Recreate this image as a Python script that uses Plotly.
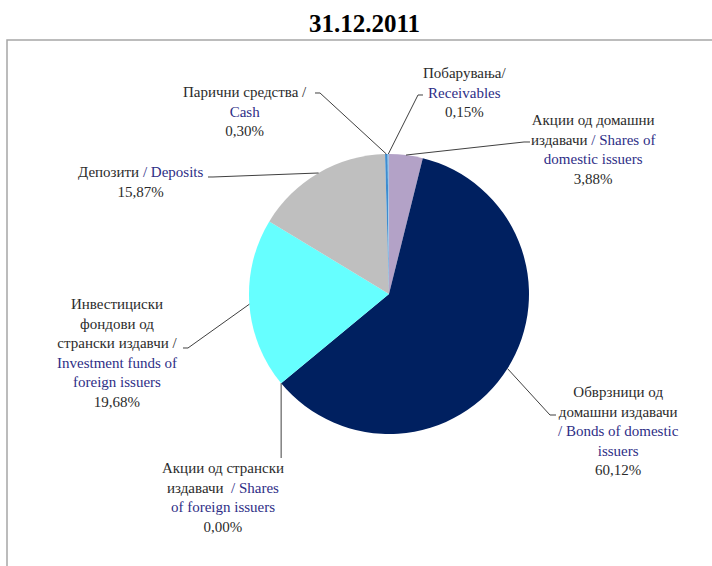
import math
import plotly.graph_objects as go

# ---------------- data ----------------
title = "31.12.2011"
labels_mk = ["Акции од домашни издавачи", "Обврзници од домашни издавачи",
             "Акции од странски издавачи", "Инвестициски фондови од странски издавчи",
             "Депозити", "Парични средства", "Побарувања"]
labels_en = ["Shares of domestic issuers", "Bonds of domestic issuers",
             "Shares of foreign issuers", "Investment funds of foreign issuers",
             "Deposits", "Cash", "Receivables"]
values = [3.88, 60.12, 0.00, 19.68, 15.87, 0.30, 0.15]
pct_text = ["3,88%", "60,12%", "0,00%", "19,68%", "15,87%", "0,30%", "0,15%"]
colors = ["#B3A2C7", "#002060", "#C0504D", "#66FFFF", "#BFBFBF", "#3C8CD0", "#9DC3E6"]

BLUE = "#2E2E86"
INK = "#2B2B2B"

def b(t):
    return f"<span style='color:{BLUE}'>{t}</span>"

# wrapped label text (display layout of the labels)
label_html = [
    "Акции од домашни<br>издавачи " + b("/ Shares of") + "<br>" + b("domestic issuers") + "<br>" + pct_text[0],
    "Обврзници од<br>домашни издавачи<br>" + b("/ Bonds of domestic") + "<br>" + b("issuers") + "<br>" + pct_text[1],
    "Акции од странски<br>издавачи  " + b("/ Shares") + "<br>" + b("of foreign issuers") + "<br>" + pct_text[2],
    "Инвестициски<br>фондови од<br>странски издавчи /<br>" + b("Investment funds of") + "<br>" + b("foreign issuers") + "<br>" + pct_text[3],
    "Депозити " + b("/ Deposits") + "<br>" + pct_text[4],
    "Парични средства /<br>" + b("Cash") + "<br>" + pct_text[5],
    "Побарувања/<br>" + b("Receivables") + "<br>" + pct_text[6],
]

# ---------------- layout geometry ----------------
W, H = 712, 566
CX, CY, R = 389, 294, 140

def px(x):
    return x / W

def py(y):
    return 1 - y / H

# label block centres (pixels)
label_pos = [(593, 149), (618, 431), (223, 497), (117, 353), (140, 182), (245, 111), (465, 92)]
# label-side leader points (pixels); None x -> vertical from edge
leader_pts = [
    [(524, 142), (530, 142)],
    [(550, 415), (556, 415)],
    [(None, 458)],
    [(188, 348), (183, 348)],
    [(213, 177), (208, 177)],
    [(320, 93), (315, 93)],
    [(418, 95), (423, 95)],
]

fig = go.Figure()
fig.add_trace(go.Pie(
    values=values,
    labels=[f"{m} / {e}" for m, e in zip(labels_mk, labels_en)],
    sort=False, direction="clockwise", rotation=0,
    textinfo="none", hoverinfo="label+percent",
    marker=dict(colors=colors, line=dict(width=0)),
    domain=dict(x=[px(CX - R), px(CX + R)], y=[py(CY + R), py(CY - R)]),
    showlegend=False,
))

shapes = []
# outer chart border
shapes.append(dict(type="rect", xref="paper", yref="paper",
                   x0=px(7), x1=px(730), y0=py(590), y1=py(40),
                   line=dict(color="#A6A6A6", width=1.5), layer="below"))

total = sum(values)
cum = 0.0
for i, v in enumerate(values):
    mid = (cum + v / 2) / total * 2 * math.pi
    cum += v
    ex = CX + R * math.sin(mid)
    ey = CY - R * math.cos(mid)
    pts = [(ex, ey)]
    for (lx, ly) in leader_pts[i]:
        pts.append((ex if lx is None else lx, ly))
    path = "M " + " L ".join(f"{px(x):.5f},{py(y):.5f}" for x, y in pts)
    shapes.append(dict(type="path", xref="paper", yref="paper", path=path,
                       line=dict(color="#404040", width=1)))

annotations = [dict(text=f"<b>{title}</b>", x=px(365), y=py(24), xref="paper", yref="paper",
                    showarrow=False, xanchor="center", yanchor="middle",
                    font=dict(family="Liberation Serif, serif", size=25, color="#000000"))]
for i, html in enumerate(label_html):
    lx, ly = label_pos[i]
    annotations.append(dict(text=html, x=px(lx), y=py(ly), xref="paper", yref="paper",
                            showarrow=False, xanchor="center", yanchor="middle", align="center",
                            font=dict(family="Liberation Serif, serif", size=15, color=INK)))

fig.update_layout(width=W, height=H, margin=dict(l=0, r=0, t=0, b=0),
                  paper_bgcolor="white", plot_bgcolor="white",
                  shapes=shapes, annotations=annotations)
fig.write_html("out.html", config={"displayModeBar": False},
               post_script="document.body.style.margin='0px';document.body.style.overflow='hidden';")
